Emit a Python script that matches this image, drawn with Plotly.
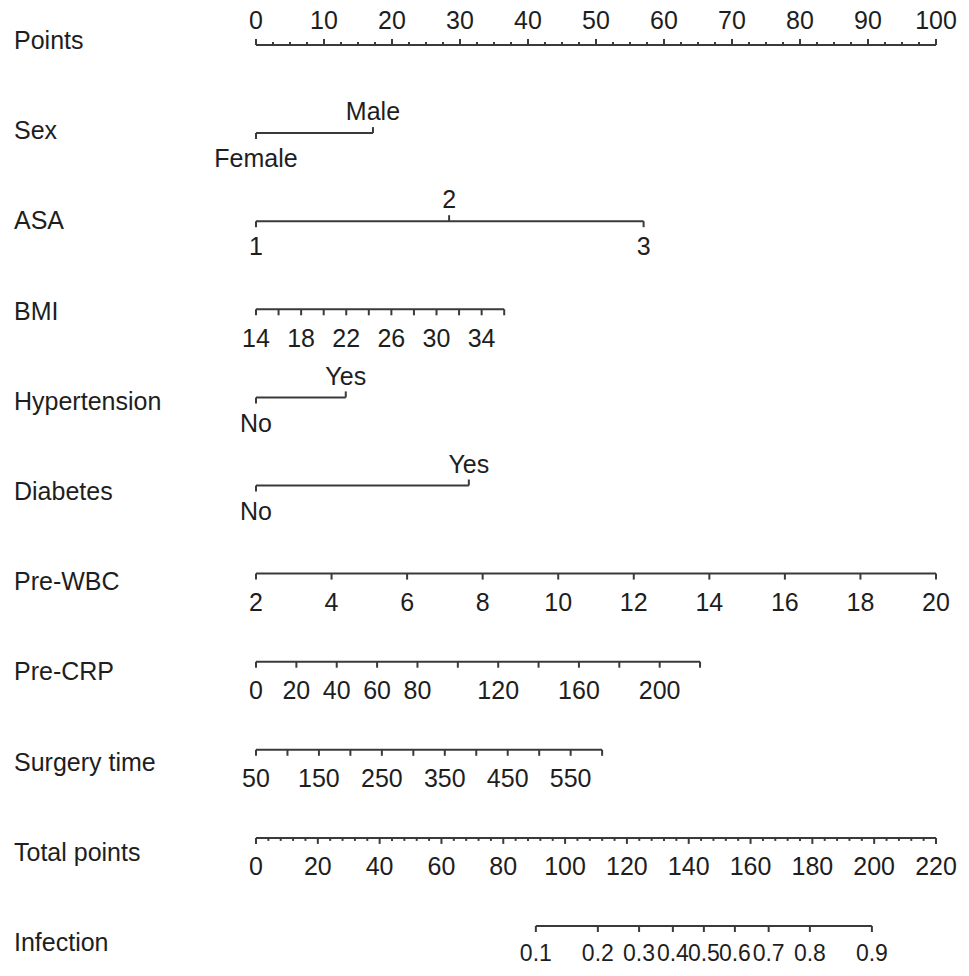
import numpy as np
import plotly.graph_objects as go

# ---------------- data ----------------
row_names = ["Points", "Sex", "ASA", "BMI", "Hypertension", "Diabetes",
             "Pre-WBC", "Pre-CRP", "Surgery time", "Total points", "Infection"]

points_major = list(range(0, 101, 10))
points_minor_step = 2.5

sex_levels = ["Female", "Male"]
sex_points = [0, 17.2]

asa_levels = ["1", "2", "3"]
asa_points = [0, 28.4, 57.0]

bmi_ticks = list(range(14, 37, 2))
bmi_labels = [14, 18, 22, 26, 30, 34]
bmi_pts_range = (0, 36.5)

hyp_levels = ["No", "Yes"]
hyp_points = [0, 13.2]

dia_levels = ["No", "Yes"]
dia_points = [0, 31.3]

wbc_ticks = list(range(2, 21, 2))
wbc_labels = list(range(2, 21, 2))
wbc_pts_range = (0, 100)

crp_ticks = list(range(0, 221, 20))
crp_labels = [0, 20, 40, 60, 80, 120, 160, 200]
crp_pts_range = (0, 65.3)

surg_ticks = list(range(50, 601, 50))
surg_labels = [50, 150, 250, 350, 450, 550]
surg_pts_range = (0, 50.9)

total_major = list(range(0, 221, 20))
total_minor_step = 4
total_max = 220

inf_probs = [0.1, 0.2, 0.3, 0.4, 0.5, 0.6, 0.7, 0.8, 0.9]
inf_intercept = 144.9   # total points at p = 0.5
inf_slope = 24.74       # total points per logit unit

# ---------------- layout constants ----------------
W, H = 969, 976
PX0, PX1 = 256, 936           # pixel positions of 0 and 100 points
span = 100 / (PX1 - PX0) * W
x0 = -PX0 / W * span
x1 = x0 + span

line_y0, line_dy = 45, 88.1
name_y0, name_dy = 40, 90.2
name_x = 12
LINE_COLOR = "#3a3a3a"
TEXT_COLOR = "#1e1e1e"
FONT = "Liberation Sans, Arial, Helvetica, sans-serif"
FS = 25

fig = go.Figure()


def lin(vals, vrange, prange):
    v0, v1 = vrange
    p0, p1 = prange
    return [p0 + (v - v0) / (v1 - v0) * (p1 - p0) for v in vals]


def add_row(y, tick_pts, tick_dirs, tick_lens, lab_pts, lab_txt, lab_offs, fs=FS):
    xs, ys = [min(tick_pts), max(tick_pts), None], [y, y, None]
    for p, d, L in zip(tick_pts, tick_dirs, tick_lens):
        xs += [p, p, None]
        ys += [y, y + d * L, None]
    fig.add_trace(go.Scatter(x=xs, y=ys, mode="lines",
                             line=dict(color=LINE_COLOR, width=2),
                             hoverinfo="skip", showlegend=False, cliponaxis=False))
    fig.add_trace(go.Scatter(x=lab_pts, y=[y + o for o in lab_offs], mode="text",
                             text=lab_txt, textposition="middle center",
                             textfont=dict(family=FONT, size=fs, color=TEXT_COLOR),
                             hoverinfo="skip", showlegend=False, cliponaxis=False))


ly = [line_y0 + i * line_dy for i in range(len(row_names))]
ABOVE_PTS, ABOVE_CAT, BELOW_CAT, BELOW_CONT = -22, -19, 28, 31

# Points
pts = list(np.arange(0, 100.001, points_minor_step))
lens = [6 if abs(p % 10) < 1e-9 else 3 for p in pts]
add_row(ly[0], pts, [-1] * len(pts), lens, points_major,
        [str(v) for v in points_major], [ABOVE_PTS] * len(points_major))


def cat_row(y, levels, points, dirs):
    offs = [ABOVE_CAT if d < 0 else BELOW_CAT for d in dirs]
    add_row(y, points, dirs, [6] * len(points), points, levels, offs)


cat_row(ly[1], sex_levels, sex_points, [1, -1])
cat_row(ly[2], asa_levels, asa_points, [1, -1, 1])

# BMI
bmi_p = lin(bmi_ticks, (bmi_ticks[0], bmi_ticks[-1]), bmi_pts_range)
add_row(ly[3], bmi_p, [1] * len(bmi_p), [6] * len(bmi_p),
        lin(bmi_labels, (bmi_ticks[0], bmi_ticks[-1]), bmi_pts_range),
        [str(v) for v in bmi_labels], [BELOW_CONT] * len(bmi_labels))

cat_row(ly[4], hyp_levels, hyp_points, [1, -1])
cat_row(ly[5], dia_levels, dia_points, [1, -1])


def cont_row(y, ticks, labels, prange):
    vr = (ticks[0], ticks[-1])
    tp = lin(ticks, vr, prange)
    add_row(y, tp, [1] * len(tp), [6] * len(tp), lin(labels, vr, prange),
            [str(v) for v in labels], [BELOW_CONT] * len(labels))


cont_row(ly[6], wbc_ticks, wbc_labels, wbc_pts_range)
cont_row(ly[7], crp_ticks, crp_labels, crp_pts_range)
cont_row(ly[8], surg_ticks, surg_labels, surg_pts_range)

# Total points
tot_all = list(np.arange(0, total_max + 0.001, total_minor_step))
tot_p = [v * 100 / total_max for v in tot_all]
tot_l = [6 if abs(v % 20) < 1e-9 else 3 for v in tot_all]
add_row(ly[9], tot_p, [1] * len(tot_p), tot_l,
        [v * 100 / total_max for v in total_major],
        [str(v) for v in total_major], [BELOW_CONT] * len(total_major))

# Infection
inf_tot = [inf_intercept + inf_slope * np.log(p / (1 - p)) for p in inf_probs]
inf_p = [t * 100 / total_max for t in inf_tot]
add_row(ly[10], inf_p, [1] * len(inf_p), [6] * len(inf_p), inf_p,
        [f"{p:g}" for p in inf_probs], [BELOW_CONT - 2] * len(inf_p), fs=23)

# row names
for i, name in enumerate(row_names):
    fig.add_annotation(x=x0 + name_x / W * span, y=name_y0 + i * name_dy, text=name,
                       showarrow=False, xanchor="left", yanchor="middle",
                       font=dict(family=FONT, size=FS, color=TEXT_COLOR))

fig.update_layout(
    width=W, height=H, margin=dict(l=0, r=0, t=0, b=0),
    paper_bgcolor="white", plot_bgcolor="white",
    xaxis=dict(range=[x0, x1], visible=False, fixedrange=True),
    yaxis=dict(range=[H, 0], visible=False, fixedrange=True),
    showlegend=False, hovermode=False,
)

fig.write_html("out.html", config={"displayModeBar": False, "staticPlot": True},
               post_script="document.body.style.margin='0';")
